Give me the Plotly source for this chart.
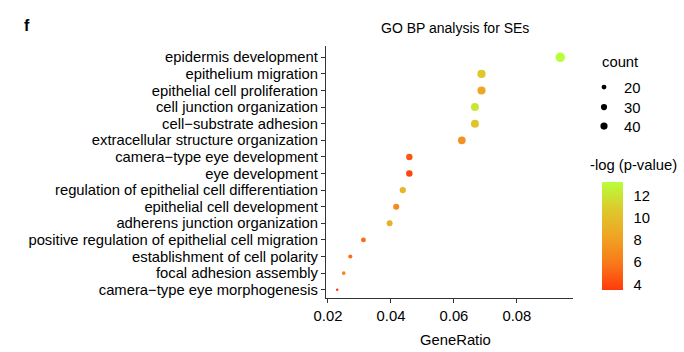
import plotly.graph_objects as go
import numpy as np

terms = [
    "epidermis development",
    "epithelium migration",
    "epithelial cell proliferation",
    "cell junction organization",
    "cell\u2212substrate adhesion",
    "extracellular structure organization",
    "camera\u2212type eye development",
    "eye development",
    "regulation of epithelial cell differentiation",
    "epithelial cell development",
    "adherens junction organization",
    "positive regulation of epithelial cell migration",
    "establishment of cell polarity",
    "focal adhesion assembly",
    "camera\u2212type eye morphogenesis",
]
counts = [45, 33, 33, 32, 32, 30, 22, 22, 21, 20, 19, 15, 13, 12, 11]
gene_ratio = [c / 480 for c in counts]
neg_log_p = [13.2, 10.6, 8.4, 12.0, 10.4, 7.3, 4.6, 3.9, 9.4, 6.8, 9.0, 5.4, 5.7, 6.6, 3.5]
legend_counts = [20, 30, 40]
x_ticks = [0.02, 0.04, 0.06, 0.08]
cbar_ticks = [4, 6, 8, 10, 12]

FONT = "Liberation Sans, Arial, sans-serif"
FS = 14.8
W, H = 684, 352
L, R, T, B = 326, 573, 46, 298

def px_x(p):
    return (p - L) / (R - L)

def px_y(p):
    return (B - p) / (B - T)

cmin, cmax = min(neg_log_p), max(neg_log_p)
cmin_c, cmax_c = min(counts), max(counts)

def size_of(c):
    return 2.5 + 7.0 * np.sqrt((c - cmin_c) / (cmax_c - cmin_c))

colorscale = [[0, "#FF3A0A"], [0.25, "#F87A1A"], [0.5, "#EFA524"],
              [0.75, "#DCCA2C"], [1, "#B8FF3A"]]

ypos = list(range(len(terms) - 1, -1, -1))

fig = go.Figure()
fig.add_trace(go.Scatter(
    x=gene_ratio, y=ypos, mode="markers", showlegend=False,
    marker=dict(
        size=[size_of(c) for c in counts], sizemode="diameter",
        color=neg_log_p, cmin=cmin, cmax=cmax, colorscale=colorscale,
        line=dict(width=0), opacity=1,
        colorbar=dict(
            x=px_x(602), xanchor="left", y=px_y(236), yanchor="middle",
            len=108, lenmode="pixels", thickness=21, thicknessmode="pixels",
            outlinewidth=0, tickvals=cbar_ticks, ticks="outside", ticklen=8,
            tickcolor="rgba(0,0,0,0)", tickwidth=1,
            tickfont=dict(family=FONT, size=FS, color="#000"),
            xpad=0, ypad=0,
        ),
    ),
    hoverinfo="skip",
))

legend_names = ["legend", "legend2", "legend3"]
legend_tops = [71, 91, 110]
for c, lg in zip(legend_counts, legend_names):
    fig.add_trace(go.Scatter(
        x=[None], y=[None], mode="markers", name=str(c), legend=lg,
        marker=dict(size=size_of(c) * 0.8, color="black"),
    ))

legend_layout = {}
for lg, top in zip(legend_names, legend_tops):
    legend_layout[lg] = dict(
        x=px_x(584), xanchor="left", y=px_y(top), yanchor="top",
        font=dict(family=FONT, size=FS), itemsizing="trace",
        tracegroupgap=0, bgcolor="rgba(0,0,0,0)")

fig.update_layout(
    width=W, height=H, margin=dict(l=L, r=W - R, t=T, b=H - B),
    paper_bgcolor="white", plot_bgcolor="white",
    font=dict(family=FONT, size=FS, color="#000"),
    showlegend=True,
    **legend_layout,
    xaxis=dict(range=[0.01937, 0.0978], tickvals=x_ticks,
               tickformat=".2f", showgrid=False, zeroline=False,
               showline=True, linecolor="#333", linewidth=1.2,
               ticks="outside", ticklen=4, tickcolor="#333",
               tickfont=dict(size=FS, color="#000")),
    yaxis=dict(range=[-0.5, 14.68], tickvals=ypos, ticktext=terms,
               showgrid=False, zeroline=False, showline=True,
               linecolor="#333", linewidth=1.2, ticks="outside", ticklen=4,
               tickcolor="#333", tickfont=dict(size=FS, color="#000")),
    annotations=[
        dict(text="GO BP analysis for SEs", x=px_x(455), y=px_y(28),
             xref="paper", yref="paper", showarrow=False,
             xanchor="center", yanchor="middle", font=dict(size=14)),
        dict(text="GeneRatio", x=px_x(455.5), y=px_y(340),
             xref="paper", yref="paper", showarrow=False,
             xanchor="center", yanchor="middle", font=dict(size=FS)),
        dict(text="<b>f</b>", x=px_x(22), y=px_y(25), xref="paper",
             yref="paper", showarrow=False, xanchor="left",
             yanchor="middle", font=dict(size=16)),
        dict(text="count", x=px_x(600), y=px_y(62), xref="paper",
             yref="paper", showarrow=False, xanchor="left",
             yanchor="middle", font=dict(size=FS)),
        dict(text="-log (p-value)", x=px_x(588), y=px_y(165), xref="paper",
             yref="paper", showarrow=False, xanchor="left",
             yanchor="middle", font=dict(size=FS)),
    ],
)

fig.write_html("out.html")
